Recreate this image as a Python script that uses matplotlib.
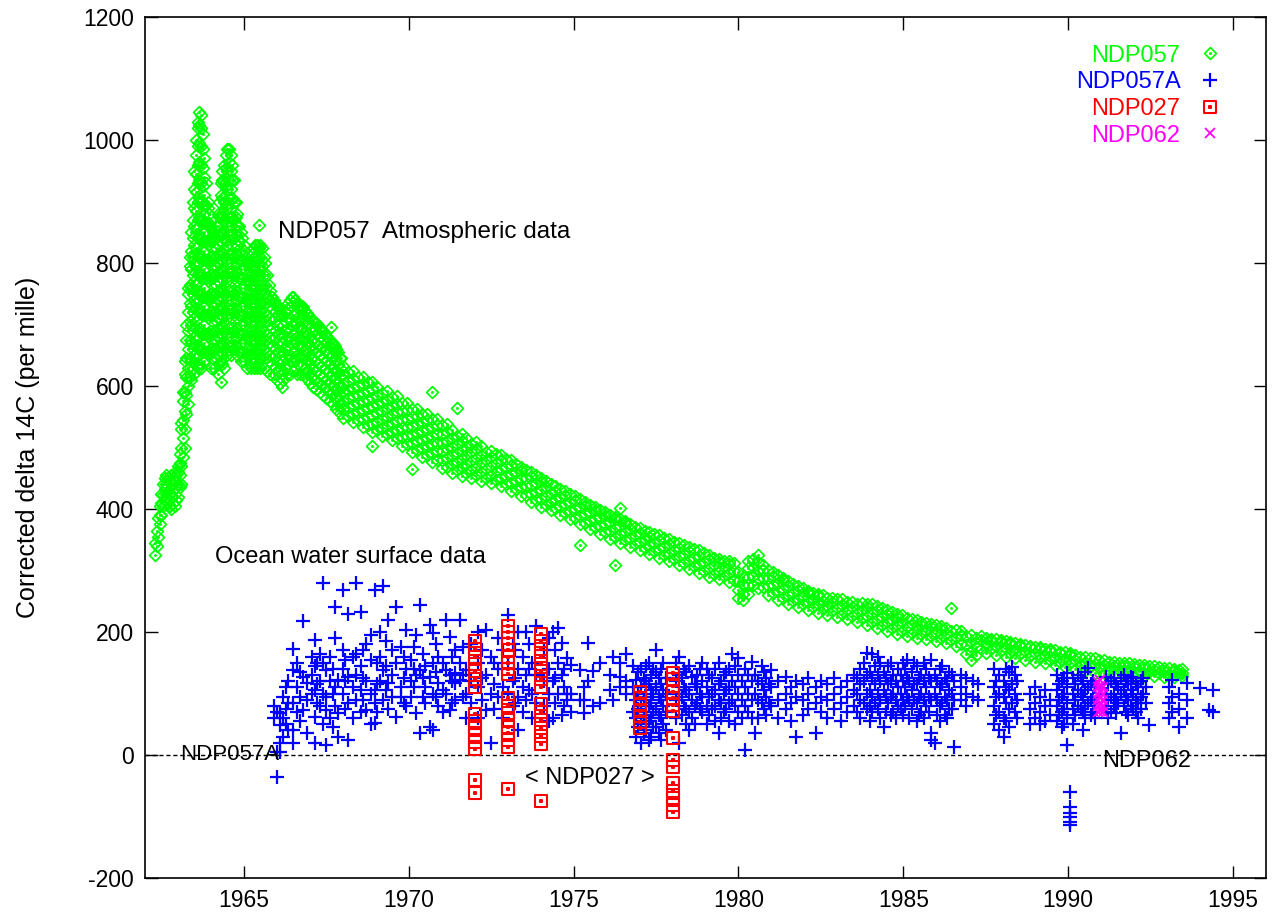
import matplotlib
matplotlib.use("Agg")
import matplotlib.pyplot as plt
from matplotlib.path import Path

plt.rcParams['font.family'] = ['Liberation Sans', 'DejaVu Sans']
plt.rcParams['axes.unicode_minus'] = False

# NDP057 atmospheric delta 14C, bomb peak years: (year, [values])
ndp057_peak = [
    (1962.30, [325, 345]), (1962.35, [340, 365]), (1962.40, [355, 385]),
    (1962.45, [375, 390, 405]), (1962.50, [390, 410, 425]), (1962.55, [405, 422, 440]),
    (1962.60, [415, 432, 450]), (1962.65, [420, 440, 455]), (1962.70, [410, 430, 450]),
    (1962.75, [405, 425, 445]), (1962.80, [400, 420, 440, 455]), (1962.85, [410, 430, 450]),
    (1962.90, [405, 425, 445, 460]), (1962.95, [415, 435, 455]), (1963.00, [420, 440, 460, 470]),
    (1963.05, [435, 455, 475, 490]), (1963.10, [440, 470, 500, 530, 540]),
    (1963.15, [485, 515, 545, 575, 590]), (1963.20, [500, 530, 560, 590, 620, 640]),
    (1963.25, [555, 585, 615, 645, 675, 700]),
    (1963.30, [570, 600, 630, 660, 690, 720, 750, 760]),
    (1963.35, [615, 645, 675, 705, 735, 765, 795, 810]),
    (1963.40, [610, 640, 670, 700, 730, 760, 790, 820, 850]),
    (1963.45, [630, 660, 690, 720, 750, 780, 810, 840, 870, 900]),
    (1963.50, [620, 650, 680, 710, 740, 770, 800, 830, 860, 890, 920, 950]),
    (1963.55, [645, 675, 705, 735, 765, 795, 825, 855, 885, 915, 945, 975, 1000]),
    (1963.60, [630, 660, 690, 720, 750, 780, 810, 840, 870, 900, 930, 960, 990, 1020, 1030]),
    (1963.65, [635, 665, 695, 725, 755, 785, 815, 845, 875, 905, 935, 965, 995, 1025, 1045]),
    (1963.70, [630, 660, 690, 720, 750, 780, 810, 840, 870, 900, 930, 960, 990, 1020, 1040]),
    (1963.75, [655, 685, 715, 745, 775, 805, 835, 865, 895, 925, 955, 985, 1010]),
    (1963.80, [640, 670, 700, 730, 760, 790, 820, 850, 880, 910, 940, 970]),
    (1963.85, [655, 685, 715, 745, 775, 805, 835, 865, 895, 930]),
    (1963.90, [650, 680, 710, 740, 770, 800, 830, 860, 890, 900]),
    (1963.95, [655, 685, 715, 745, 775, 805, 835, 865, 880]),
    (1964.00, [630, 660, 690, 720, 750, 780, 810, 840, 860]),
    (1964.05, [655, 685, 715, 745, 775, 805, 835, 850]),
    (1964.10, [630, 660, 690, 720, 750, 780, 810, 840, 850]),
    (1964.15, [645, 675, 705, 735, 765, 795, 825, 860]),
    (1964.20, [620, 650, 680, 710, 740, 770, 800, 830, 860, 880]),
    (1964.25, [635, 665, 695, 725, 755, 785, 815, 845, 875, 900]),
    (1964.30, [607, 640, 670, 700, 730, 760, 790, 820, 850, 880, 910, 930]),
    (1964.35, [635, 665, 695, 725, 755, 785, 815, 845, 875, 905, 935, 950]),
    (1964.40, [630, 660, 690, 720, 750, 780, 810, 840, 870, 900, 930, 960]),
    (1964.45, [655, 685, 715, 745, 775, 805, 835, 865, 895, 925, 955, 975]),
    (1964.50, [650, 680, 710, 740, 770, 800, 830, 860, 890, 920, 950, 985]),
    (1964.55, [665, 695, 725, 755, 785, 815, 845, 875, 905, 935, 965, 985]),
    (1964.60, [650, 680, 710, 740, 770, 800, 830, 860, 890, 920, 950, 975]),
    (1964.65, [665, 695, 725, 755, 785, 815, 845, 875, 905, 935, 960]),
    (1964.70, [660, 690, 720, 750, 780, 810, 840, 870, 900, 935]),
    (1964.75, [665, 695, 725, 755, 785, 815, 845, 875, 900]),
    (1964.80, [650, 680, 710, 740, 770, 800, 830, 860, 880]),
    (1964.85, [655, 685, 715, 745, 775, 805, 835, 860]),
    (1964.90, [640, 670, 700, 730, 760, 790, 820, 850]),
    (1964.95, [655, 685, 715, 745, 775, 805, 840]),
    (1965.00, [640, 670, 700, 730, 760, 790, 820, 830]),
    (1965.05, [650, 680, 710, 740, 770, 800, 810]),
    (1965.10, [630, 660, 690, 720, 750, 780, 800]),
    (1965.15, [650, 680, 710, 740, 770, 800]),
    (1965.20, [630, 660, 690, 720, 750, 780, 800]),
    (1965.25, [645, 675, 705, 735, 765, 795, 815]),
    (1965.30, [630, 660, 690, 720, 750, 780, 810, 825]),
    (1965.35, [645, 675, 705, 735, 765, 795, 830]),
    (1965.40, [630, 660, 690, 720, 750, 780, 810, 830]),
    (1965.45, [645, 675, 705, 735, 765, 795, 825, 862]),
    (1965.50, [630, 660, 690, 720, 750, 780, 810, 830]),
    (1965.55, [645, 675, 705, 735, 765, 795, 825]),
    (1965.60, [630, 660, 690, 720, 750, 780, 810]),
    (1965.65, [645, 675, 705, 735, 765, 800]),
    (1965.70, [625, 655, 685, 715, 745, 780]),
    (1965.75, [640, 670, 700, 730, 765]),
    (1965.80, [620, 650, 680, 710, 740, 755]),
    (1965.85, [635, 665, 695, 725, 745]),
    (1965.90, [620, 650, 680, 710, 740]),
    (1965.95, [630, 660, 690, 720, 735]),
    (1966.00, [610, 640, 670, 700, 730]),
    (1966.05, [625, 655, 685, 715, 725]),
    (1966.10, [605, 635, 665, 695, 720]),
    (1966.15, [598, 620, 650, 680, 715]),
    (1966.20, [610, 640, 670, 700, 715]),
    (1966.25, [630, 660, 690, 720]),
    (1966.30, [620, 650, 680, 710, 725]),
    (1966.35, [635, 665, 695, 735]),
    (1966.40, [620, 650, 680, 710, 740]),
    (1966.45, [640, 670, 700, 730, 745]),
    (1966.50, [625, 655, 685, 715, 745]),
    (1966.55, [640, 670, 700, 740]),
    (1966.60, [620, 650, 680, 710, 735]),
    (1966.65, [635, 665, 695, 730]),
    (1966.70, [620, 650, 680, 710, 730]),
    (1966.75, [635, 665, 695, 730]),
    (1966.80, [620, 650, 680, 710, 728]),
    (1966.85, [630, 660, 690, 722]),
    (1966.90, [612, 642, 672, 702, 718]),
    (1966.95, [625, 655, 685, 715]),
    (1967.00, [605, 635, 665, 695, 712]),
    (1967.05, [615, 645, 675, 708]),
    (1967.10, [598, 628, 658, 688, 705]),
    (1967.15, [610, 640, 670, 703]),
    (1967.20, [595, 625, 655, 685, 702]),
    (1967.25, [607, 637, 667, 700]),
    (1967.30, [590, 620, 650, 680, 695]),
    (1967.35, [603, 633, 663, 690]),
    (1967.40, [585, 615, 645, 675, 688]),
    (1967.45, [597, 627, 657, 685]),
    (1967.50, [580, 610, 640, 670, 682]),
    (1967.55, [593, 623, 653, 678]),
    (1967.60, [575, 605, 635, 665, 675]),
    (1967.65, [587, 617, 647, 670, 696]),
    (1967.70, [570, 600, 630, 660, 670]),
    (1967.75, [581, 611, 641, 665]),
    (1967.80, [563, 593, 623, 653, 660]),
    (1967.85, [575, 605, 635, 655]),
    (1967.90, [556, 586, 616, 646]),
    (1967.95, [567, 597, 627, 645]),
]

# NDP057 after 1968: slow decline
ndp057_decline = [
    (1968.00, [548, 562, 576, 590, 604, 618, 632]), (1968.15, [552, 566, 580, 594, 608, 622]),
    (1968.30, [541, 555, 569, 583, 597, 611, 625]), (1968.45, [544, 558, 572, 586, 600, 614]),
    (1968.60, [533, 547, 561, 575, 589, 603, 615]), (1968.75, [536, 550, 564, 578, 592, 606]),
    (1968.90, [502, 525, 539, 553, 567, 581, 595, 606]), (1969.05, [528, 542, 556, 570, 584, 598]),
    (1969.20, [518, 532, 546, 560, 574, 588]), (1969.35, [522, 536, 550, 564, 578, 592]),
    (1969.50, [512, 526, 540, 554, 568, 582]), (1969.65, [515, 529, 543, 557, 571, 583]),
    (1969.80, [503, 517, 531, 545, 559, 573]), (1969.95, [505, 519, 533, 547, 561, 572]),
    (1970.10, [465, 493, 507, 521, 535, 549, 563]), (1970.25, [496, 510, 524, 538, 552, 562]),
    (1970.40, [485, 499, 513, 527, 541, 555]), (1970.55, [488, 502, 516, 530, 544, 554]),
    (1970.70, [477, 491, 505, 519, 533, 547, 590]), (1970.85, [480, 494, 508, 522, 536, 546]),
    (1971.00, [466, 480, 494, 508, 522, 536]), (1971.15, [469, 483, 497, 511, 525, 538]),
    (1971.30, [459, 473, 487, 501, 515, 529]), (1971.45, [463, 477, 491, 505, 519, 565]),
    (1971.60, [454, 468, 482, 496, 510, 522]), (1971.75, [459, 473, 487, 501, 515]),
    (1971.90, [450, 464, 478, 492, 506]), (1972.05, [455, 469, 483, 497, 509]),
    (1972.20, [446, 460, 474, 488, 502]), (1972.35, [451, 465, 479, 493]),
    (1972.50, [442, 456, 470, 484, 495]), (1972.65, [447, 461, 475, 489]),
    (1972.80, [437, 451, 465, 479, 488]), (1972.95, [440, 454, 468, 482]),
    (1973.10, [429, 443, 457, 471, 479]), (1973.25, [432, 446, 460, 473]),
    (1973.40, [421, 435, 449, 463, 469]), (1973.55, [423, 437, 451, 464]),
    (1973.70, [411, 425, 439, 453, 460]), (1973.85, [414, 428, 442, 455]),
    (1974.00, [403, 417, 431, 445, 450]), (1974.15, [407, 421, 435, 446]),
    (1974.30, [398, 412, 426, 440]), (1974.45, [402, 416, 430, 437]),
    (1974.60, [391, 405, 419, 432]), (1974.75, [394, 408, 422, 429]),
    (1974.90, [383, 397, 411, 424]), (1975.05, [386, 400, 414, 421]),
    (1975.20, [342, 375, 389, 403, 416]), (1975.35, [378, 392, 406, 412]),
    (1975.50, [367, 381, 395, 406]), (1975.65, [370, 384, 398, 403]),
    (1975.80, [359, 373, 387, 399]), (1975.95, [362, 376, 390, 395]),
    (1976.10, [351, 365, 379, 390]), (1976.25, [309, 355, 369, 383, 387]),
    (1976.40, [345, 359, 373, 383, 402]), (1976.55, [349, 363, 377, 380]),
    (1976.70, [339, 353, 367, 376]), (1976.85, [343, 357, 371]),
    (1977.00, [333, 347, 361, 369]), (1977.15, [337, 351, 365]),
    (1977.30, [327, 341, 355, 363]), (1977.45, [331, 345, 359]),
    (1977.60, [321, 335, 349, 357]), (1977.75, [325, 339, 353]),
    (1977.90, [315, 329, 343, 351]), (1978.05, [319, 333, 347]),
    (1978.20, [309, 323, 337, 345]), (1978.35, [313, 327, 341]),
    (1978.50, [303, 317, 331, 339]), (1978.65, [307, 321, 335]),
    (1978.80, [296, 310, 324, 333]), (1978.95, [300, 314, 328]),
    (1979.10, [290, 304, 318, 325]), (1979.25, [295, 309, 321]),
    (1979.40, [286, 300, 314, 319]), (1979.55, [291, 305, 316]),
    (1979.70, [282, 296, 310, 315]), (1979.85, [285, 299, 312]),
    (1980.00, [255, 269, 283, 297]), (1980.15, [252, 262, 276, 290]),
    (1980.30, [262, 276, 290, 304, 316]), (1980.45, [277, 291, 305, 319]),
    (1980.60, [272, 286, 300, 314, 325]), (1980.75, [273, 287, 301, 309]),
    (1980.90, [260, 274, 288, 301]), (1981.05, [263, 277, 291, 297]),
    (1981.20, [252, 266, 280, 292]), (1981.35, [256, 270, 284, 287]),
    (1981.50, [246, 260, 274, 283]), (1981.65, [250, 264, 278]),
    (1981.80, [240, 254, 268, 275]), (1981.95, [245, 259, 271]),
    (1982.10, [235, 249, 263, 267]), (1982.25, [240, 254, 264]),
    (1982.40, [231, 245, 259, 262]), (1982.55, [237, 251, 260]),
    (1982.70, [228, 242, 256]), (1982.85, [234, 248, 256]),
    (1983.00, [225, 239, 253]), (1983.15, [230, 244, 253]),
    (1983.30, [221, 235, 249]), (1983.45, [226, 240, 249]),
    (1983.60, [217, 231, 245]), (1983.75, [222, 236, 247]),
    (1983.90, [212, 226, 240, 246]), (1984.05, [217, 231, 245]),
    (1984.20, [207, 221, 235, 242]), (1984.35, [211, 225, 239]),
    (1984.50, [202, 216, 230, 236]), (1984.65, [206, 220, 233]),
    (1984.80, [197, 211, 225, 230]), (1984.95, [202, 216, 227]),
    (1985.10, [194, 208, 222]), (1985.25, [199, 213, 221]),
    (1985.40, [191, 205, 219]), (1985.55, [197, 211, 217]),
    (1985.70, [188, 202, 215]), (1985.85, [194, 208, 213]),
    (1986.00, [185, 199, 211]), (1986.15, [191, 205, 209]),
    (1986.30, [182, 196, 207]), (1986.45, [187, 201, 239]),
    (1986.60, [178, 192, 204]), (1986.75, [181, 195, 201]),
    (1986.90, [165, 179, 193]), (1987.05, [155, 169, 183, 195]),
    (1987.20, [162, 176, 190]), (1987.35, [173, 187, 193]),
    (1987.50, [166, 180, 191]), (1987.65, [172, 186, 189]),
    (1987.80, [163, 177, 188]), (1987.95, [169, 183, 187]),
    (1988.10, [160, 174, 185]), (1988.25, [166, 180, 183]),
    (1988.40, [158, 172, 182]), (1988.55, [164, 178, 181]),
    (1988.70, [155, 169, 179]), (1988.85, [161, 175, 178]),
    (1989.00, [152, 166, 176]), (1989.15, [158, 172, 175]),
    (1989.30, [149, 163, 173]), (1989.45, [155, 169, 172]),
    (1989.60, [146, 160, 170]), (1989.75, [152, 166, 168]),
    (1989.90, [143, 157, 167]), (1990.05, [149, 163, 166]),
    (1990.20, [140, 154, 163]), (1990.35, [146, 160]),
    (1990.50, [137, 151, 160]), (1990.65, [143, 157]),
    (1990.80, [134, 148, 157]), (1990.95, [141, 155]),
    (1991.10, [133, 147, 154]), (1991.25, [139, 152]),
    (1991.40, [131, 145, 151]), (1991.55, [138, 150]),
    (1991.70, [130, 144, 150]), (1991.85, [137, 149]),
    (1992.00, [129, 143, 148]), (1992.15, [136, 147]),
    (1992.30, [129, 141, 146]), (1992.45, [135, 145]),
    (1992.60, [128, 139, 144]), (1992.75, [133, 143]),
    (1992.90, [127, 137, 142]), (1993.05, [132, 141]),
    (1993.20, [127, 136, 140]), (1993.35, [131, 139]),
    (1993.45, [128, 134, 140]),
]

# NDP057A ocean surface water
ndp057a = [
    (1965.90, [80, 60]), (1966.00, [70, 5, -36]), (1966.09, [68, 48, 20, 5]),
    (1966.20, [95, 60, 30]), (1966.28, [110, 75, 50]), (1966.35, [120, 85, 40]),
    (1966.50, [173, 138, 84, 41, 19]), (1966.62, [150, 110, 70]), (1966.70, [135, 95, 55]),
    (1966.78, [218, 127, 73]), (1966.90, [117, 35, 90]), (1967.05, [160, 130, 100]),
    (1967.15, [187, 144, 106, 62, 19]), (1967.22, [150, 115, 85]), (1967.30, [165, 120, 80]),
    (1967.40, [280, 150, 100, 50]), (1967.50, [138, 95, 73, 16]), (1967.62, [160, 120, 60]),
    (1967.70, [140, 100, 45]), (1967.76, [190, 241, 111, 80]), (1967.86, [122, 68, 30]),
    (1968.01, [269, 171, 140, 100]), (1968.08, [155, 120, 75]), (1968.16, [230, 127, 84, 24]),
    (1968.30, [160, 110, 60]), (1968.41, [279, 165, 130, 90]), (1968.55, [233, 144, 106, 70]),
    (1968.62, [170, 125, 90]), (1968.70, [180, 120, 73]), (1968.85, [195, 154, 100, 50]),
    (1968.97, [269, 106, 84, 52]), (1969.05, [150, 115, 70]), (1969.12, [200, 160, 120]),
    (1969.22, [274, 138, 90]), (1969.30, [185, 145, 105]), (1969.37, [220, 117, 75]),
    (1969.50, [171, 130, 95]), (1969.62, [241, 150, 62]), (1969.75, [176, 110, 95]),
    (1969.85, [160, 125, 85]), (1969.93, [203, 140, 80]), (1970.08, [154, 120, 95]),
    (1970.15, [175, 140, 110]), (1970.23, [195, 130, 68]), (1970.33, [244, 138, 35]),
    (1970.42, [165, 125, 95]), (1970.50, [144, 111, 85]), (1970.64, [211, 127, 46]),
    (1970.73, [198, 149, 100, 41]), (1970.82, [180, 135, 95]), (1970.90, [160, 117, 80]),
    (1971.05, [150, 106, 70]), (1971.14, [220, 138, 100]), (1971.24, [192, 130, 73]),
    (1971.32, [160, 120, 85]), (1971.40, [170, 133, 117, 90]), (1971.55, [220, 150, 122]),
    (1971.65, [175, 130, 95]), (1971.75, [138, 100, 60]), (1971.90, [180, 120, 85]),
    (1972.10, [200, 150, 110, 60]), (1972.22, [170, 125, 90]), (1972.35, [203, 130, 73]),
    (1972.50, [160, 100, 19]), (1972.60, [150, 115, 75]), (1972.70, [190, 140, 95]),
    (1972.85, [170, 110, 60]), (1973.01, [228, 150, 100]), (1973.15, [180, 120, 80]),
    (1973.22, [170, 125, 85]), (1973.30, [200, 140, 95, 40]), (1973.45, [160, 110, 70]),
    (1973.57, [200, 130, 90]), (1973.65, [180, 140, 105]), (1973.75, [150, 100, 60]),
    (1973.87, [209, 130, 85]), (1974.10, [170, 120, 80]), (1974.25, [190, 140, 100, 55]),
    (1974.37, [200, 120, 60]), (1974.45, [170, 125, 85]), (1974.52, [206, 150, 100]),
    (1974.65, [182, 130, 65]), (1974.72, [140, 110, 80]), (1974.80, [157, 100, 89]),
    (1974.93, [146, 100, 70]), (1975.18, [138, 90]), (1975.30, [111, 89, 68]),
    (1975.43, [182, 120]), (1975.58, [136, 79]), (1975.79, [150, 84]),
    (1976.09, [106, 130]), (1976.20, [160, 89]), (1976.40, [149, 127, 110]),
    (1976.60, [165, 120, 100]), (1976.80, [144, 110, 70]), (1976.90, [122, 90, 60, 30]),
    (1976.95, [135, 100, 75, 45]), (1977.05, [140, 110, 80, 50, 20]),
    (1977.12, [125, 90, 65, 35]), (1977.20, [144, 120, 95, 70, 40]),
    (1977.28, [150, 115, 80, 55, 25]), (1977.35, [130, 105, 85, 60, 30]),
    (1977.42, [140, 100, 70, 45]), (1977.50, [171, 135, 110, 75, 45]),
    (1977.58, [125, 95, 65, 35]), (1977.65, [140, 115, 90, 60, 25]),
    (1977.72, [150, 105, 80, 50]), (1977.80, [125, 100, 70, 40]),
    (1978.10, [150, 120, 90, 60]), (1978.20, [160, 130, 100, 20]), (1978.28, [125, 95, 65]),
    (1978.35, [140, 110, 80]), (1978.42, [135, 105, 75, 50]), (1978.50, [144, 100, 70, 40]),
    (1978.60, [127, 90, 60]), (1978.68, [115, 80, 50]), (1978.75, [130, 110, 85]),
    (1978.83, [140, 100, 75]), (1978.90, [150, 120, 95, 70]), (1979.05, [140, 110, 80, 50]),
    (1979.12, [130, 95, 65]), (1979.20, [125, 100, 75]), (1979.30, [140, 105, 80, 55]),
    (1979.40, [150, 115, 90, 35]), (1979.48, [120, 85, 60]), (1979.55, [130, 100, 70]),
    (1979.62, [135, 105, 75]), (1979.70, [140, 110, 85, 55]), (1979.80, [165, 120, 90]),
    (1979.90, [145, 110, 80, 50]), (1980.00, [157, 130, 100, 70]), (1980.10, [120, 90, 60]),
    (1980.20, [140, 110, 80, 8]), (1980.30, [130, 100, 70]), (1980.40, [152, 120, 90, 60]),
    (1980.50, [130, 100, 35]), (1980.60, [120, 90, 60]), (1980.70, [145, 115, 85]),
    (1980.78, [135, 105, 75]), (1980.85, [125, 95, 65]), (1980.92, [115, 85]),
    (1981.00, [138, 110, 80]), (1981.20, [120, 90, 60]), (1981.45, [127, 100, 75]),
    (1981.60, [110, 85, 55]), (1981.75, [120, 95, 30]), (1981.95, [115, 90, 65]),
    (1982.10, [125, 100, 75]), (1982.35, [110, 85, 35]), (1982.50, [120, 95, 70]),
    (1982.70, [115, 90, 60]), (1982.90, [125, 100, 75]), (1983.10, [110, 85, 55]),
    (1983.30, [120, 95, 70]), (1983.50, [130, 105, 80]), (1983.60, [125, 100, 70]),
    (1983.70, [140, 115, 90, 60]), (1983.80, [150, 120, 85]), (1983.90, [166, 130, 100, 75]),
    (1983.98, [135, 105, 80, 55]), (1984.05, [165, 125, 95, 70]), (1984.15, [144, 115, 85]),
    (1984.22, [160, 130, 100, 75]), (1984.30, [150, 120, 90, 60]), (1984.40, [135, 105, 46]),
    (1984.48, [125, 95, 70]), (1984.55, [145, 115, 85]), (1984.62, [150, 120, 95, 65]),
    (1984.70, [130, 100, 70]), (1984.78, [120, 90, 60]), (1984.85, [140, 110, 80]),
    (1984.92, [130, 100, 75]), (1985.00, [150, 120, 90, 65]), (1985.05, [140, 110, 80]),
    (1985.10, [154, 125, 95]), (1985.18, [120, 90, 60]), (1985.25, [135, 105, 75]),
    (1985.32, [150, 115, 90]), (1985.40, [145, 115, 85, 55]), (1985.48, [125, 95, 65]),
    (1985.55, [130, 100, 70]), (1985.62, [150, 120, 90, 60]), (1985.70, [140, 110, 80]),
    (1985.78, [125, 95, 70]), (1985.85, [154, 120, 90, 35, 24]), (1985.95, [130, 100, 19]),
    (1986.02, [120, 90, 65]), (1986.10, [140, 110, 80, 55]), (1986.18, [145, 115, 85]),
    (1986.25, [125, 95, 65]), (1986.32, [120, 90, 60]), (1986.40, [135, 105, 75]),
    (1986.48, [130, 100, 75]), (1986.55, [120, 90, 13]), (1986.75, [130, 110, 90]),
    (1986.90, [125, 100, 80]), (1987.10, [120, 95]), (1987.25, [115, 90]),
    (1987.75, [140, 110, 80, 50]), (1987.82, [120, 95, 65]), (1987.90, [130, 100, 70, 40]),
    (1988.05, [120, 95, 60, 30]), (1988.12, [140, 110, 85, 55]), (1988.20, [135, 105, 75, 45]),
    (1988.30, [143, 115, 85]), (1988.38, [130, 100, 70]), (1988.45, [120, 90, 60]),
    (1988.85, [100, 75, 50]), (1989.00, [110, 85, 60]), (1989.15, [95, 70, 50]),
    (1989.30, [105, 80, 55]), (1989.45, [90, 65]), (1989.65, [130, 105, 80, 55]),
    (1989.72, [115, 90, 65]), (1989.80, [120, 95, 70, 45]), (1989.88, [125, 100, 75, 50]),
    (1989.97, [133, 110, 85, 60, 16]), (1990.06, [-60, -85, -95, -100, -109, -114]),
    (1990.15, [125, 100, 75, 50]), (1990.22, [115, 90, 65]), (1990.30, [130, 105, 80]),
    (1990.38, [125, 100, 75]), (1990.45, [120, 95, 70, 41]), (1990.52, [135, 105, 80, 60]),
    (1990.60, [142, 110, 85]), (1990.68, [115, 90, 65]), (1990.75, [120, 95, 70]),
    (1990.82, [110, 85, 60]), (1991.15, [127, 100, 75]), (1991.22, [115, 90, 60]),
    (1991.30, [120, 95, 70]), (1991.38, [125, 100, 80]), (1991.45, [115, 90, 68]),
    (1991.52, [110, 85]), (1991.60, [125, 100, 35]), (1991.68, [130, 105, 80]),
    (1991.75, [120, 95, 70]), (1991.82, [115, 90, 65]), (1991.90, [127, 105, 80]),
    (1991.98, [125, 100, 75]), (1992.05, [115, 90, 70]), (1992.12, [110, 85, 60]),
    (1992.20, [120, 95, 75]), (1992.28, [125, 100]), (1992.35, [110, 85]), (1992.45, [49]),
    (1993.05, [110, 85, 60]), (1993.15, [122, 95, 70]), (1993.35, [100, 75, 46]),
    (1993.60, [117, 90, 60]), (1994.00, [109]), (1994.27, [73]), (1994.40, [105, 70]),
]

# NDP027 cruise profiles
ndp027 = [
    (1972.0, [185, 172, 160, 148, 136, 123, 110, 66, 55, 44, 33, 21, 10, -40, -62]),
    (1973.0, [210, 200, 190, 180, 170, 160, 150, 140, 132, 92, 80, 68, 57, 46, 35, 24, 13, -55]),
    (1974.0, [197, 185, 173, 161, 148, 136, 123, 111, 83, 70, 57, 44, 31, 18, -74]),
    (1977.0, [102, 92, 82, 72, 63, 53, 44]),
    (1978.0, [133, 123, 113, 103, 93, 82, 72, 28, -8, -20, -45, -58, -70, -82, -92]),
]

# NDP062
ndp062 = [
    (1990.90, [70, 80, 90, 100, 110, 118]),
    (1990.98, [72, 82, 92, 102, 112, 122]),
    (1991.06, [70, 80, 90, 100, 110]),
]


def flatten(rows):
    xs, ys = [], []
    for yr, vals in rows:
        xs += [yr] * len(vals)
        ys += vals
    return xs, ys


def with_dot(verts):
    # outline plus a tiny centre square, so the stroked marker shows a dot
    d = 0.09
    dot = [(-d, -d), (d, -d), (d, d), (-d, d), (-d, -d)]
    codes = [Path.MOVETO] + [Path.LINETO] * (len(verts) - 2) + [Path.CLOSEPOLY]
    codes += [Path.MOVETO, Path.LINETO, Path.LINETO, Path.LINETO, Path.CLOSEPOLY]
    return Path(list(verts) + dot, codes)


diamond = with_dot([(0, -1), (1, 0), (0, 1), (-1, 0), (0, -1)])
square = with_dot([(-1, -1), (1, -1), (1, 1), (-1, 1), (-1, -1)])

fig = plt.figure(figsize=(12.72, 9.17), dpi=100)
ax = fig.add_axes([145 / 1272, 1 - 878 / 917, 1121 / 1272, 861 / 917])

x, y = flatten(ndp057_peak + ndp057_decline)
ax.plot(x, y, ls='none', marker=diamond, ms=8.5, mfc='none', mec='#00ff00',
        mew=1.25, color='#00ff00', label='NDP057')
x, y = flatten(ndp057a)
ax.plot(x, y, ls='none', marker='+', ms=10, mew=1.6, color='#0000ff', label='NDP057A')
x, y = flatten(ndp027)
ax.plot(x, y, ls='none', marker=square, ms=9, mfc='none', mec='#ff0000',
        mew=1.5, color='#ff0000', label='NDP027')
x, y = flatten(ndp062)
ax.plot(x, y, ls='none', marker='x', ms=7, mew=1.3, color='#ff00ff', label='NDP062')

ax.axhline(0, color='black', lw=1, ls=(0, (3, 2)), zorder=0)

ax.text(1966.03, 850, 'NDP057  Atmospheric data', fontsize=17.5, va='center', ha='left')
ax.text(1964.12, 322, 'Ocean water surface data', fontsize=17, va='center', ha='left')
ax.text(1963.06, 0, 'NDP057A', fontsize=16, va='center', ha='left')
ax.text(1973.52, -37, '< NDP027 >', fontsize=17, va='center', ha='left')
ax.text(1991.03, -10, 'NDP062', fontsize=17, va='center', ha='left')

ax.set_xlim(1962, 1996)
ax.set_ylim(-200, 1200)
ax.set_xticks(range(1965, 1996, 5))
ax.set_yticks(range(-200, 1201, 200))
ax.tick_params(direction='in', top=True, right=True, length=9, width=1,
               labelsize=16.5, pad=8)
for s in ax.spines.values():
    s.set_linewidth(1.2)
ax.set_ylabel('Corrected delta 14C (per mille)', fontsize=18, labelpad=31)

ax.legend(loc='upper right', bbox_to_anchor=(0.9607, 0.968), markerfirst=False,
          labelcolor='linecolor', frameon=False, fontsize=17, handlelength=1.0,
          handletextpad=0.76, labelspacing=0.2, borderaxespad=0, borderpad=0,
          numpoints=1)

fig.savefig('out.png', dpi=100)
